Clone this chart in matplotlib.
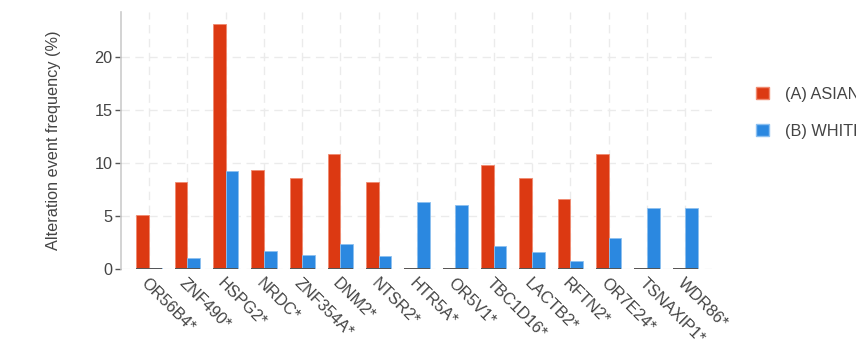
import numpy as np
import matplotlib.pyplot as plt
from matplotlib.patches import Patch

plt.rcParams["font.family"] = ["Liberation Sans", "DejaVu Sans"]

genes = ["OR56B4*", "ZNF490*", "HSPG2*", "NRDC*", "ZNF354A*", "DNM2*", "NTSR2*",
         "HTR5A*", "OR5V1*", "TBC1D16*", "LACTB2*", "RFTN2*", "OR7E24*",
         "TSNAXIP1*", "WDR86*"]
asian = [5.1, 8.2, 23.2, 9.4, 8.6, 10.9, 8.2, 0.08, 0.08, 9.8, 8.6, 6.6, 10.9, 0.08, 0.08]
white = [0.08, 1.0, 9.3, 1.7, 1.3, 2.4, 1.2, 6.3, 6.05, 2.2, 1.6, 0.8, 2.9, 5.75, 5.75]
series_names = ["(A) ASIAN", "(B) WHITE"]

RED = "#dc3912"
BLUE = "#2b88e0"
TXT = "#444444"
FS = 11.7

fig = plt.figure(figsize=(8.56, 3.4), dpi=100)
ax = fig.add_axes([121 / 856, 1 - 269 / 340, (712 - 121) / 856, (269 - 12) / 340])

x = np.arange(len(genes))
w = 0.33
ax.bar(x - w / 2, asian, w, color=RED, edgecolor="#f08a70", linewidth=0.6, zorder=3)
ax.bar(x + w / 2, white, w, color=BLUE, edgecolor="#8cc0f0", linewidth=0.6, zorder=3)
# short dark baseline under each group
ax.hlines([0] * len(x), x - w, x + w, color="#555555", linewidth=1.4, zorder=4)

ax.set_xlim(-0.73, len(genes) - 0.3)
ax.set_ylim(0, 24.3)
ax.set_yticks([0, 5, 10, 15, 20])
ax.set_xticks(x)
ax.set_xticklabels(genes, rotation=-45, ha="left", va="top", rotation_mode="anchor",
                   fontsize=FS, color=TXT)
ax.tick_params(axis="x", length=0, pad=5)
ax.tick_params(axis="y", length=4, width=1, color="#555555", labelsize=FS,
               labelcolor=TXT, pad=2)
ax.grid(True, color="#ebebeb", linestyle=(0, (6, 4)), linewidth=1, zorder=0)
for s in ["top", "right", "bottom"]:
    ax.spines[s].set_visible(False)
ax.spines["left"].set_color("#cccccc")
ax.spines["left"].set_linewidth(1.2)
ax.set_ylabel("Alteration event frequency (%)", fontsize=FS, color=TXT, labelpad=24)

handles = [Patch(facecolor=RED, edgecolor="#f08a70"), Patch(facecolor=BLUE, edgecolor="#8cc0f0")]
leg = fig.legend(handles, series_names, loc="upper left", bbox_to_anchor=(741 / 856, 1 - 72 / 340),
                 frameon=False, fontsize=FS, handlelength=0.8, handleheight=0.8,
                 handletextpad=1.0, labelspacing=1.35, labelcolor=TXT)

fig.savefig("out.png", dpi=100)
